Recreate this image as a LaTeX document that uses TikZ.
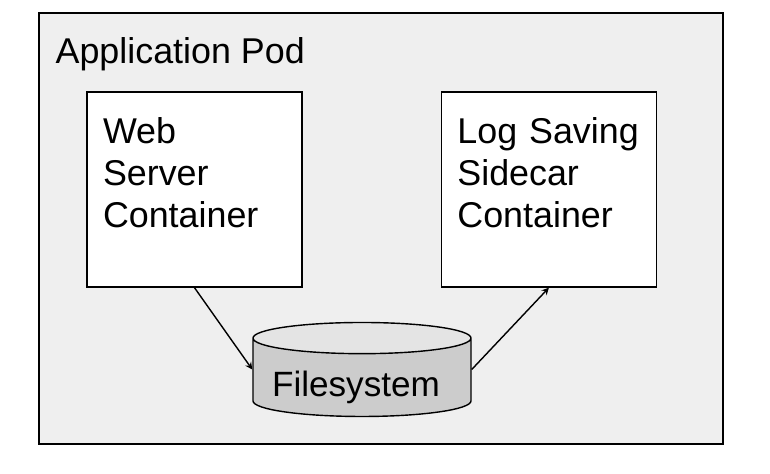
\documentclass[tikz,border=0pt]{standalone}
\usepackage{fontspec}
\setmainfont{Liberation Sans}
\usepackage{tikz}
\usetikzlibrary{arrows,shapes,positioning,calc}
\usepackage{xcolor}
\definecolor{podgray}{RGB}{239,239,239}
\definecolor{fsgray}{RGB}{204,204,204}
\definecolor{fstop}{RGB}{228,228,228}
\tikzstyle{arrow} = [line width=0.8pt,->,>=stealth,color=black]
\tikzstyle{podbox} = [rectangle, draw=black, fill=podgray, line width=0.8pt, minimum width=13.68cm, minimum height=8.62cm, inner sep=0pt]
\tikzstyle{containerbox} = [rectangle, draw=black, fill=white, line width=0.8pt, minimum width=4.3cm, minimum height=3.9cm, text width=3.66cm, inner xsep=0.32cm, inner ysep=0pt, text depth=2.34cm, align=left, font=\fontsize{20.4}{23.8}\selectfont]
\tikzstyle{fsnode} = [cylinder, shape border rotate=90, shape aspect=0.2, draw=black, line width=0.8pt, cylinder uses custom fill, cylinder body fill=fsgray, cylinder end fill=fstop, minimum width=4.36cm, minimum height=1.88cm, inner sep=0pt, font=\fontsize{20}{23.8}\selectfont]

\begin{document}
\begin{tikzpicture}
\useasboundingbox (0,0) rectangle (15.4,9.48);
% Pod
\node[podbox] (pod) at (7.62,4.91) {};
\node[below right=0.5cm and 0.34cm of pod.north west, inner sep=0pt, font=\fontsize{20.4}{23.8}\selectfont] (podlabel) {Application Pod};

% Containers
\node[containerbox, below right=1.58cm and 0.96cm of pod.north west] (web) {Web\\Server\\Container};
\node[containerbox, right=2.76cm of web] (sidecar) {Log Saving\\Sidecar\\Container};

% Shared volume
\node[fsnode, anchor=shape center] (fs) at (7.24,2.09) {\raisebox{-0.38cm}[0pt][0pt]{\hspace*{-0.24cm}Filesystem}};

\draw[arrow] (web.south) -- (fs.west |- fs.shape center);
\draw[arrow] (fs.east |- fs.shape center) -- (sidecar.south);
\end{tikzpicture}
\end{document}
